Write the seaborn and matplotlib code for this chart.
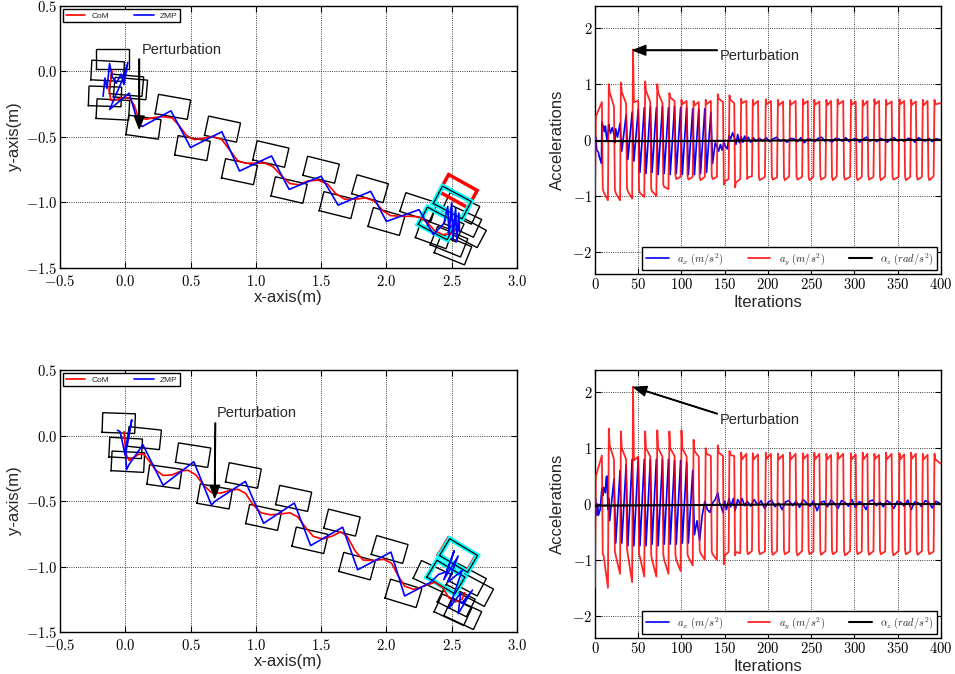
import numpy as np
import matplotlib
matplotlib.use("Agg")
import matplotlib.pyplot as plt
import seaborn as sns
from matplotlib.ticker import FuncFormatter, MultipleLocator

# ---------------- data: walking trajectories (left plots) ----------------
FOOT_L, FOOT_W = 0.25, 0.15

# top-left footprints: centre x, centre y, yaw (deg)
feet1_x = [-0.10, -0.135, 0.01, 0.04, -0.155, -0.095, 0.14, 0.365, 0.515, 0.745, 0.875, 1.115,
           1.255, 1.50, 1.625, 1.875, 2.00, 2.245, 2.365, 2.48, 2.51, 2.585, 2.57, 2.62, 2.45]
feet1_y = [0.095, 0.005, -0.105, -0.13, -0.19, -0.29, -0.425, -0.27, -0.585, -0.44, -0.765, -0.63,
           -0.905, -0.75, -1.02, -0.895, -1.145, -1.035, -1.24, -1.30, -1.36, -1.145, -1.045, -1.22, -1.18]
feet1_yaw = [0, -3, -5, -5, -2, -3, -8, -10, -10, -12, -12, -13, -13, -14, -14, -16, -16, -18,
             -20, -22, -22, -25, -25, -28, -25]
cyan1_x, cyan1_y, cyan1_yaw = [2.505, 2.39], [-1.0, -1.16], [-28, -28]
red1_x, red1_y, red1_yaw = [2.55], [-0.913], [-29]

com1_x = [-0.10, -0.11, -0.125, -0.11, -0.07, -0.02, 0.03, 0.07, 0.10, 0.16, 0.23, 0.29, 0.36, 0.41,
          0.47, 0.53, 0.60, 0.67, 0.74, 0.80, 0.86, 0.92, 1.00, 1.07, 1.13, 1.20, 1.26, 1.33, 1.40,
          1.48, 1.55, 1.61, 1.68, 1.76, 1.84, 1.91, 1.97, 2.03, 2.10, 2.18, 2.25, 2.31, 2.37, 2.43,
          2.49, 2.53, 2.56]
com1_y = [0.0, -0.06, -0.14, -0.22, -0.215, -0.20, -0.20, -0.26, -0.35, -0.365, -0.35, -0.345,
          -0.355, -0.41, -0.49, -0.52, -0.51, -0.495, -0.52, -0.60, -0.68, -0.70, -0.70, -0.70,
          -0.725, -0.80, -0.855, -0.865, -0.835, -0.83, -0.86, -0.93, -0.975, -0.975, -0.965,
          -0.99, -1.06, -1.10, -1.105, -1.105, -1.11, -1.15, -1.215, -1.245, -1.24, -1.21, -1.17]

zmp1_x = [-0.17, -0.155, -0.14, -0.12, -0.10, -0.07, -0.03, -0.01, 0.02, -0.02, -0.12, 0.03, 0.10,
          0.13, 0.35, 0.50, 0.74, 0.875, 1.12, 1.255, 1.50, 1.63, 1.88, 2.00, 2.25, 2.36, 2.44,
          2.47, 2.48, 2.50, 2.51, 2.53, 2.54, 2.555, 2.56]
zmp1_y = [-0.19, -0.05, -0.13, 0.06, -0.04, -0.09, -0.02, -0.10, 0.07, -0.06, -0.29, -0.165,
          -0.40, -0.42, -0.30, -0.58, -0.46, -0.76, -0.645, -0.90, -0.80, -1.02, -0.915, -1.145,
          -1.055, -1.245, -1.16, -1.03, -1.25, -1.00, -1.28, -1.04, -1.30, -1.08, -1.22]

# bottom-left footprints
feet2_x = [-0.05, 0.145, 0.003, 0.02, 0.30, 0.52, 0.685, 0.905, 1.06, 1.29, 1.415, 1.66, 1.775,
           2.025, 2.13, 2.35, 2.62, 2.675, 2.51, 2.585, 2.535]
feet2_y = [0.095, -0.02, -0.095, -0.20, -0.315, -0.15, -0.465, -0.305, -0.625, -0.48, -0.80,
           -0.665, -0.997, -0.87, -1.205, -1.075, -1.10, -1.18, -1.33, -1.36, -1.26]
feet2_yaw = [-2, -6, -3, -3, -8, -9, -10, -11, -12, -12, -13, -14, -15, -16, -17, -25, -28, -28,
             -25, -25, -27]
cyan2_x, cyan2_y, cyan2_yaw = [2.553, 2.456], [-0.916, -1.081], [-31, -31]
red2_x, red2_y, red2_yaw = [2.545], [-0.91], [-31]

com2_x = [-0.01, 0.0, 0.01, 0.03, 0.06, 0.10, 0.14, 0.18, 0.23, 0.29, 0.36, 0.43, 0.48, 0.54,
          0.60, 0.66, 0.73, 0.80, 0.86, 0.92, 0.98, 1.04, 1.11, 1.18, 1.26, 1.32, 1.38, 1.44,
          1.51, 1.58, 1.65, 1.70, 1.76, 1.82, 1.90, 1.98, 2.04, 2.09, 2.14, 2.21, 2.29, 2.37,
          2.43, 2.48, 2.53, 2.58, 2.60]
com2_y = [0.03, -0.08, -0.15, -0.19, -0.17, -0.145, -0.14, -0.19, -0.26, -0.305, -0.30, -0.27,
          -0.265, -0.30, -0.38, -0.435, -0.44, -0.42, -0.41, -0.44, -0.53, -0.59, -0.605, -0.60,
          -0.59, -0.62, -0.70, -0.77, -0.79, -0.77, -0.735, -0.77, -0.88, -0.95, -0.955, -0.945,
          -0.975, -1.07, -1.15, -1.175, -1.15, -1.12, -1.16, -1.24, -1.27, -1.25, -1.20]

zmp2_x = [-0.06, -0.04, 0.0, 0.02, 0.05, 0.0, 0.01, 0.03, 0.135, 0.29, 0.525, 0.66, 0.69, 0.92,
          1.06, 1.295, 1.42, 1.665, 1.78, 2.035, 2.14, 2.34, 2.40, 2.46, 2.52, 2.44, 2.55, 2.47,
          2.58, 2.48, 2.57, 2.55, 2.64, 2.58, 2.66]
zmp2_y = [0.04, 0.03, -0.15, -0.05, 0.12, -0.10, -0.26, -0.22, -0.07, -0.38, -0.20, -0.53, -0.50,
          -0.35, -0.67, -0.515, -0.84, -0.70, -1.025, -0.89, -1.225, -1.12, -1.06, -1.04, -0.88,
          -1.10, -0.92, -1.12, -1.03, -1.32, -1.20, -1.36, -1.21, -1.28, -1.18]

# ---------------- data: accelerations (right plots) ----------------
# iteration where each half step of a_y starts
switch_it = [0, 9, 16, 23, 30, 37, 44, 51, 58, 65, 72, 79, 86, 93, 100, 107, 114, 121, 128, 135,
             142, 149, 155.5, 162, 169, 176, 182.5, 189.5, 197.5, 204.5, 211.5, 218.5, 225.5, 233,
             240.5, 247, 253.5, 260.5, 267.5, 274, 280.5, 288, 296, 302.5, 309.5, 316, 323, 329.5,
             336.5, 344, 352, 358.5, 365.5, 372, 379, 385.5, 392.5]
# a_y per half step: value at switch, one iteration after, at the end
ay1_a = [-1.00, -0.88, 1.00, -0.88, 1.03, -0.86, 1.62, -0.90, 1.05, -0.88,
         1.00, -0.80, 0.84, -0.64, 0.72, -0.65, 0.70, -0.66, 0.72, -0.64,
         0.82, -0.80, 0.80, -0.85, 0.74, -0.70, 0.72, -0.66, 0.73, -0.65,
         0.72, -0.66, 0.71, -0.65, 0.73, -0.66, 0.72, -0.65, 0.72, -0.66,
         0.73, -0.65, 0.72, -0.66, 0.71, -0.65, 0.73, -0.66, 0.72, -0.65,
         0.73, -0.66, 0.72, -0.65, 0.72, -0.66, 0.72]
ay1_b = [0.42, -0.93, 0.85, -0.95, 0.86, -0.92, 0.68, -0.95, 0.88, -0.92,
         0.85, -0.84, 0.76, -0.70, 0.64, -0.71, 0.62, -0.72, 0.64, -0.70,
         0.74, -0.74, 0.72, -0.76, 0.66, -0.67, 0.63, -0.72, 0.64, -0.71,
         0.62, -0.72, 0.63, -0.71, 0.64, -0.72, 0.63, -0.71, 0.62, -0.72,
         0.64, -0.71, 0.63, -0.72, 0.62, -0.71, 0.64, -0.72, 0.63, -0.71,
         0.64, -0.72, 0.63, -0.71, 0.62, -0.72, 0.64]
ay1_c = [0.68, -1.08, 0.60, -1.08, 0.65, -1.05, 0.70, -1.02, 0.68, -1.00,
         0.66, -0.88, 0.70, -0.66, 0.70, -0.66, 0.68, -0.66, 0.70, -0.66,
         0.68, -0.70, 0.66, -0.70, 0.70, -0.65, 0.70, -0.66, 0.70, -0.67,
         0.69, -0.65, 0.70, -0.66, 0.70, -0.66, 0.69, -0.66, 0.70, -0.65,
         0.70, -0.66, 0.69, -0.66, 0.70, -0.66, 0.70, -0.65, 0.69, -0.66,
         0.70, -0.66, 0.69, -0.66, 0.70, -0.65, 0.66]

ay2_a = [-1.50, -0.90, 1.35, -0.85, 1.30, -0.80, 2.10, -0.90, 1.30, -0.92,
         1.32, -0.90, 1.30, -0.90, 1.32, -0.90, 1.15, -0.82, 1.00, -0.85,
         1.05, -1.08, 0.95, -0.92, 0.92, -0.84, 0.91, -0.82, 0.92, -0.84,
         0.90, -0.83, 0.92, -0.84, 0.91, -0.82, 0.92, -0.84, 0.90, -0.83,
         0.92, -0.84, 0.91, -0.82, 0.92, -0.84, 0.90, -0.83, 0.92, -0.84,
         0.91, -0.82, 0.92, -0.84, 0.90, -0.83, 0.90]
ay2_b = [0.50, -0.92, 1.05, -0.92, 1.00, -0.90, 0.78, -0.95, 1.00, -1.00,
         1.00, -1.00, 1.00, -1.00, 1.00, -0.95, 0.95, -0.88, 0.90, -0.90,
         0.92, -0.92, 0.88, -0.86, 0.80, -0.90, 0.80, -0.90, 0.81, -0.91,
         0.80, -0.90, 0.80, -0.92, 0.81, -0.90, 0.80, -0.91, 0.80, -0.90,
         0.81, -0.92, 0.80, -0.90, 0.80, -0.91, 0.81, -0.90, 0.80, -0.92,
         0.80, -0.90, 0.81, -0.91, 0.80, -0.90, 0.80]
ay2_c = [0.87, -1.50, 0.80, -1.25, 0.80, -1.40, 0.85, -1.30, 0.85, -1.30,
         0.85, -1.25, 0.86, -1.20, 0.85, -1.10, 0.85, -1.00, 0.86, -1.00,
         0.86, -0.86, 0.86, -0.88, 0.90, -0.84, 0.89, -0.85, 0.90, -0.84,
         0.88, -0.85, 0.90, -0.84, 0.89, -0.85, 0.90, -0.84, 0.88, -0.85,
         0.90, -0.84, 0.89, -0.85, 0.90, -0.84, 0.88, -0.85, 0.90, -0.84,
         0.89, -0.85, 0.90, -0.84, 0.88, -0.85, 0.72]

ax1_it = [0, 1, 2, 4, 5, 7.5, 8, 10, 11, 12, 13, 14, 15, 16, 17, 18, 19, 20, 22, 23,
          24, 26, 29, 31, 36, 38, 43, 45, 50, 52, 57, 59, 64, 66, 71, 73, 78, 80, 85, 87,
          92, 94, 99, 101, 106, 108, 113, 115, 120, 122, 127, 129, 134, 136, 139, 141, 143, 145,
          147, 149, 151, 153, 155, 157, 159, 161, 163, 165, 167, 169, 171, 173, 175, 177, 180,
          183, 186]
ax1_v = [0.02, 0.05, -0.18, -0.22, -0.30, -0.42, 0.32, 0.22, 0.15, 0.25,
         0.10, 0.0, 0.12, 0.28, 0.18, 0.12, 0.18, 0.22, 0.10, -0.05,
         0.20, 0.05, 0.30, -0.20, 0.45, -0.35, 0.50, -0.38, 0.55, -0.58,
         0.58, -0.60, 0.60, -0.58, 0.58, -0.62, 0.60, -0.60, 0.58, -0.62,
         0.60, -0.60, 0.58, -0.62, 0.58, -0.62, 0.56, -0.62, 0.56, -0.60,
         0.56, -0.58, 0.50, -0.42, -0.05, -0.12, -0.20, -0.08, -0.18, -0.05,
         -0.12, -0.16, 0.08, 0.02, 0.13, 0.05, -0.08, 0.10, -0.05, 0.06,
         -0.04, 0.07, 0.0, 0.05, -0.04, 0.04, -0.02]
ax1_tail = [0.03, -0.02, 0.04, -0.03, 0.02, 0.05, -0.02, 0.01, -0.04, 0.03,
            0.02, -0.03, 0.04, -0.05, 0.02, 0.01, -0.03, 0.03, 0.05, -0.02,
            0.00, -0.04, 0.03, 0.02, -0.02, 0.04, -0.03, 0.01, 0.03, -0.04,
            0.02, 0.05, -0.02, 0.01, -0.03, 0.03, 0.00, -0.04, 0.02, 0.04,
            -0.02, 0.01, -0.03, 0.03, 0.02, -0.04, 0.04, 0.00, -0.02, 0.03,
            -0.03, 0.02, 0.01]

ax2_it = [0, 1, 2, 3, 4, 6, 8, 9, 10, 12, 13, 14, 15, 16, 17, 22, 24, 29, 31, 36,
          38, 43, 45, 50, 52, 57, 59, 64, 66, 71, 73, 78, 80, 85, 87, 92, 94, 99, 101, 106,
          108, 113, 115, 118, 121, 124, 127, 130, 133, 136, 139, 142, 144, 146, 148, 150, 152,
          155, 157, 160, 162, 165, 168, 170, 173]
ax2_v = [0.15, 0.05, -0.2, 0.0, -0.2, -0.1, 0.28, 0.15, 0.3, 0.2,
         0.48, 0.5, -0.1, 0.1, -0.3, 0.45, -0.7, 0.6, -0.7, 0.7,
         -0.75, 0.8, -0.75, 0.82, -0.75, 0.8, -0.75, 0.8, -0.72, 0.8,
         -0.75, 0.8, -0.72, 0.8, -0.72, 0.78, -0.72, 0.78, -0.7, 0.75,
         -0.7, 0.6, -0.55, -0.3, -0.65, -0.2, 0.05, -0.1, -0.15, 0.02,
         0.08, 0.2, 0.02, -0.05, -0.15, 0.05, -0.1, 0.1, -0.05, 0.1,
         -0.12, 0.08, 0.0, 0.1, -0.03]
ax2_tail = [0.05, -0.04, 0.08, -0.02, 0.06, -0.08, 0.03, 0.07, -0.05, 0.02,
            -0.10, 0.04, 0.06, -0.03, 0.05, -0.06, 0.08, 0.02, -0.04, 0.06,
            -0.12, 0.03, 0.05, -0.05, 0.07, 0.01, -0.08, 0.06, 0.03, -0.04,
            0.08, -0.06, 0.04, 0.02, -0.10, 0.05, 0.07, -0.03, 0.04, -0.05,
            0.06, 0.02, -0.08, 0.05, 0.03, -0.04, 0.07, -0.10, 0.04, 0.02,
            -0.05, 0.06, 0.03, -0.07, 0.05, 0.02]

az_it = [0, 100, 200, 300, 400]
az1_v = [-0.02, -0.02, -0.01, 0.0, 0.0]
az2_v = [-0.03, -0.02, -0.01, 0.0, 0.0]


# ---------------- helpers ----------------
def steps(times, a, b, c, end=401):
    bounds = list(times) + [end]
    xs, ys = [], []
    for k in range(len(times)):
        t0, t1 = bounds[k], bounds[k + 1]
        xs += [t0, t0 + 1, t1 - 1]
        ys += [a[k], b[k], c[k]]
    return np.array(xs), np.array(ys)


def draw_feet(ax, xs, ys, yaws, color, lw, z):
    for cx, cy, yaw in zip(xs, ys, yaws):
        th = np.radians(yaw)
        u = np.array([np.cos(th), np.sin(th)])
        v = np.array([-np.sin(th), np.cos(th)])
        pts = [np.array([cx, cy]) + sx * FOOT_L / 2 * u + sy * FOOT_W / 2 * v
               for sx, sy in [(-1, -1), (1, -1), (1, 1), (-1, 1), (-1, -1)]]
        pts = np.array(pts)
        ax.plot(pts[:, 0], pts[:, 1], color=color, lw=lw, zorder=z,
                solid_joinstyle="miter", solid_capstyle="projecting")


def tick_fmt(dec):
    def f(v, pos):
        if abs(v) < 1e-9:
            v = 0.0
        return "$%.*f$" % (dec, v)
    return FuncFormatter(f)


# ---------------- style ----------------
sns.set_style("ticks")
plt.rcParams["font.family"] = ["Liberation Sans", "DejaVu Sans"]
plt.rcParams["mathtext.fontset"] = "cm"
plt.rcParams["xtick.direction"] = "in"
plt.rcParams["ytick.direction"] = "in"
plt.rcParams["xtick.top"] = True
plt.rcParams["ytick.right"] = True
plt.rcParams["axes.edgecolor"] = "black"
plt.rcParams["xtick.color"] = "black"
plt.rcParams["ytick.color"] = "black"

fig = plt.figure(figsize=(9.55, 6.74), dpi=100)
ax_tl = fig.add_axes([0.0628, 0.6024, 0.4785, 0.3887])
ax_tr = fig.add_axes([0.623, 0.5935, 0.3623, 0.3976])
ax_bl = fig.add_axes([0.0628, 0.0623, 0.4785, 0.3887])
ax_br = fig.add_axes([0.623, 0.0534, 0.3623, 0.3976])

arrow = dict(facecolor="black", edgecolor="black", width=0.4, headwidth=7, headlength=9, shrink=0)

# ---------------- left: trajectories ----------------
left = [
    (ax_tl, feet1_x, feet1_y, feet1_yaw, cyan1_x, cyan1_y, cyan1_yaw, red1_x, red1_y, red1_yaw,
     com1_x, com1_y, zmp1_x, zmp1_y, (0.107, -0.435), (0.107, 0.095), (0.125, 0.164)),
    (ax_bl, feet2_x, feet2_y, feet2_yaw, cyan2_x, cyan2_y, cyan2_yaw, red2_x, red2_y, red2_yaw,
     com2_x, com2_y, zmp2_x, zmp2_y, (0.685, -0.475), (0.69, 0.096), (0.70, 0.173)),
]
for (ax, fx, fy, fyaw, cx, cy, cyaw, rx, ry, ryaw, comx, comy, zx, zy,
     head, tail, txt) in left:
    draw_feet(ax, fx, fy, fyaw, "black", 1.0, 2)
    draw_feet(ax, rx, ry, ryaw, "red", 2.5, 3)
    draw_feet(ax, cx, cy, cyaw, "cyan", 3.5, 3)
    draw_feet(ax, cx, cy, cyaw, "black", 0.9, 4)
    sns.lineplot(x=np.array(comx), y=np.array(comy), sort=False, estimator=None,
                 color="red", lw=1.2, label="CoM", ax=ax, zorder=5)
    sns.lineplot(x=np.array(zx), y=np.array(zy), sort=False, estimator=None,
                 color="blue", lw=1.2, label="ZMP", ax=ax, zorder=6)
    ax.annotate("", xy=head, xytext=tail, arrowprops=arrow, zorder=7)
    ax.text(txt[0], txt[1], "Perturbation", fontsize=10.5, ha="left", va="center")
    ax.set_xlim(-0.5, 3.0)
    ax.set_ylim(-1.5, 0.5)
    ax.xaxis.set_major_locator(MultipleLocator(0.5))
    ax.yaxis.set_major_locator(MultipleLocator(0.5))
    ax.xaxis.set_major_formatter(tick_fmt(1))
    ax.yaxis.set_major_formatter(tick_fmt(1))
    ax.set_xlabel("x-axis(m)", fontsize=12, labelpad=1)
    ax.set_ylabel("y-axis(m)", fontsize=12, labelpad=3)
    leg = ax.legend(loc="upper left", ncol=2, fontsize=6, handlelength=2.3,
                    columnspacing=3.0, borderaxespad=0.4, fancybox=False,
                    framealpha=1, edgecolor="black", borderpad=0.3)
    leg.get_frame().set_linewidth(1.0)

# ---------------- right: accelerations ----------------
right = [
    (ax_tr, ay1_a, ay1_b, ay1_c, ax1_it, ax1_v, ax1_tail, 190, az1_v,
     (44.3, 1.607), (141.4, 1.607), (144.5, 1.50)),
    (ax_br, ay2_a, ay2_b, ay2_c, ax2_it, ax2_v, ax2_tail, 176, az2_v,
     (45.1, 2.09), (141.4, 1.617), (144.5, 1.51)),
]
for (ax, ya, yb, yc, xit, xv, xtail, tail_start, azv, head, tail, txt) in right:
    ay_x, ay_y = steps(switch_it, ya, yb, yc)
    ax_x = np.concatenate([xit, np.linspace(tail_start, 398, len(xtail))])
    ax_y = np.concatenate([xv, xtail])
    sns.lineplot(x=ax_x, y=ax_y, sort=False, estimator=None, color="blue", lw=1.2,
                 label=r"$a_x\ (m/s^2)$", ax=ax, zorder=3)
    sns.lineplot(x=ay_x, y=ay_y, sort=False, estimator=None, color="red", lw=1.3, alpha=0.85,
                 label=r"$a_y\ (m/s^2)$", ax=ax, zorder=4)
    sns.lineplot(x=np.array(az_it), y=np.array(azv), sort=False, estimator=None, color="black",
                 lw=1.5, label=r"$\alpha_z\ (rad/s^2)$", ax=ax, zorder=5)
    ax.annotate("", xy=head, xytext=tail, arrowprops=arrow, zorder=7)
    ax.text(txt[0], txt[1], "Perturbation", fontsize=10.5, ha="left", va="center")
    ax.set_xlim(0, 400)
    ax.set_ylim(-2.4, 2.4)
    ax.xaxis.set_major_locator(MultipleLocator(50))
    ax.yaxis.set_major_locator(MultipleLocator(1))
    ax.xaxis.set_major_formatter(tick_fmt(0))
    ax.yaxis.set_major_formatter(tick_fmt(0))
    ax.set_xlabel("Iterations", fontsize=12, labelpad=2)
    ax.set_ylabel("Accelerations", fontsize=12, labelpad=5)
    leg = ax.legend(loc="lower right", ncol=3, fontsize=7.5, handlelength=2.2,
                    columnspacing=2.3, borderaxespad=0.35, fancybox=False,
                    framealpha=1, edgecolor="black", borderpad=0.35)
    leg.get_frame().set_linewidth(1.0)

for ax in (ax_tl, ax_tr, ax_bl, ax_br):
    ax.grid(True, color="black", linestyle=":", linewidth=0.6)
    ax.tick_params(labelsize=10.5, length=4, width=0.8, pad=2)
    for s in ax.spines.values():
        s.set_linewidth(1.0)
        s.set_color("black")
for ax in (ax_tl, ax_bl):
    ax.tick_params(axis="x", pad=4)

fig.savefig("out.png", dpi=100)
